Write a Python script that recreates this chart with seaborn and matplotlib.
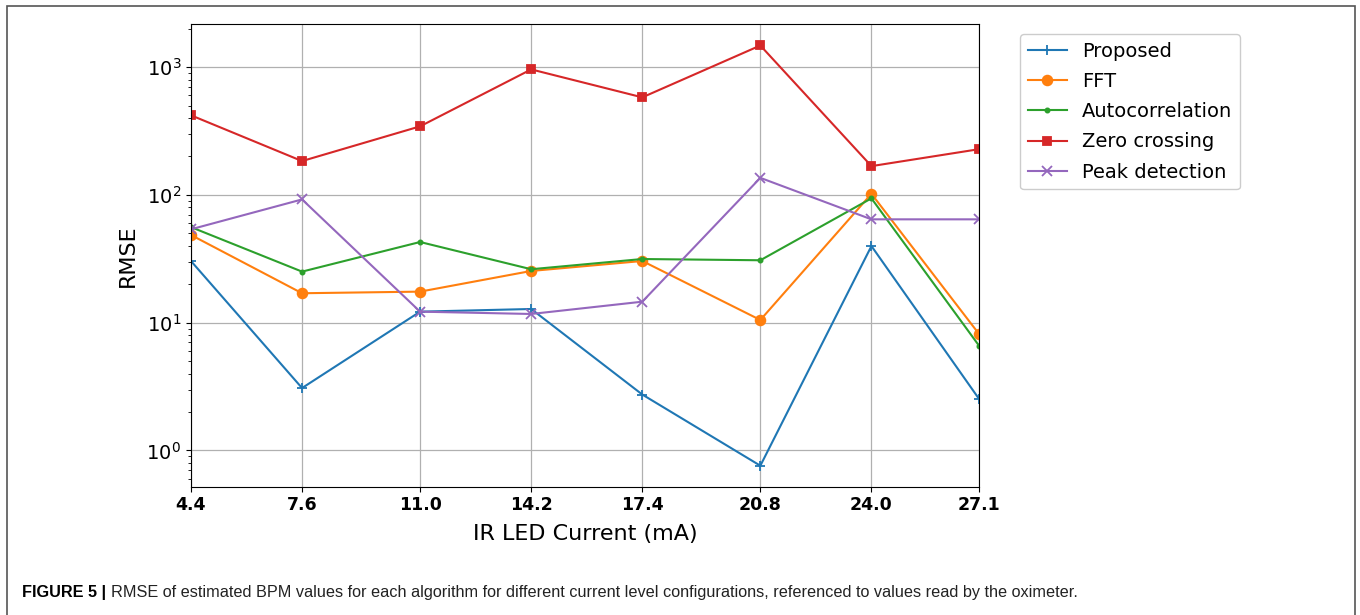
import numpy as np
import pandas as pd
import matplotlib
matplotlib.use("Agg")
import matplotlib.pyplot as plt
from matplotlib.patches import Rectangle
import seaborn as sns

# =========================
# Data
# =========================

currents = [4.4, 7.6, 11.0, 14.2, 17.4, 20.8, 24.0, 27.1]

proposed = [30.4, 3.08, 12.2, 12.8, 2.74, 0.76, 39.8, 2.53]
fft = [48.6, 17.0, 17.5, 25.4, 30.4, 10.5, 102, 8.15]
autocorr = [56, 25.1, 42.8, 26.2, 31.5, 30.8, 94, 6.6]
zero_cross = [420, 184, 344, 960, 580, 1477, 168, 228]
peak_det = [53.8, 92.2, 12.2, 11.7, 14.6, 136, 64.4, 64.4]

names = ["Proposed", "FFT", "Autocorrelation", "Zero crossing", "Peak detection"]
series = [proposed, fft, autocorr, zero_cross, peak_det]
markers = ["+", "o", ".", "s", "x"]
colors = ["#1f77b4", "#ff7f0e", "#2ca02c", "#d62728", "#9467bd"]
msizes = [7, 7, 6, 6, 7]

# =========================
# Plot
# =========================

fig = plt.figure(figsize=(13.6, 6.15), dpi=100)
ax = fig.add_axes([0.1404, 0.2086, 0.5795, 0.7516])

for name, vals, m, c, ms in zip(names, series, markers, colors, msizes):
    df = pd.DataFrame({"current": currents, "rmse": vals})
    sns.lineplot(data=df, x="current", y="rmse", ax=ax,
                 color=c, marker=m, markersize=ms,
                 markeredgecolor=c, markeredgewidth=1.3,
                 linewidth=1.5, label=name)

ax.set_yscale("log")
ax.set_xlim(currents[0], currents[-1])
ax.set_xticks(currents)
ax.set_xticklabels([f"{v:.1f}" for v in currents], fontsize=12.5, fontweight="bold")
ax.tick_params(axis="y", labelsize=14)
ax.grid(True, which="major", color="#b0b0b0", linewidth=0.9)

ax.set_xlabel("IR LED Current (mA)", fontsize=16, labelpad=7)
ax.set_ylabel("RMSE", fontsize=16, labelpad=6)

ax.legend(loc="upper left", bbox_to_anchor=(0.75, 0.945),
          bbox_transform=fig.transFigure, borderaxespad=0,
          fontsize=14, framealpha=1, labelspacing=0.58)

# =========================
# Caption and frame
# =========================

fig.patches.append(Rectangle((7 / 1360, -0.05), 1348 / 1360, 1.05 - 6 / 615,
                             transform=fig.transFigure, fill=False,
                             edgecolor="#555555", linewidth=1.2))

cap_font = ["Liberation Sans Narrow", "Liberation Sans", "DejaVu Sans"]
t = fig.text(22 / 1360, (615 - 592) / 615, "FIGURE 5 |", fontsize=11.7,
             fontweight="bold", family=cap_font, va="center", ha="left")
fig.canvas.draw()
bb = t.get_window_extent()
fig.text((bb.x1 + 5) / 1360, (615 - 592) / 615,
         "RMSE of estimated BPM values for each algorithm for different current "
         "level configurations, referenced to values read by the oximeter.",
         fontsize=11.7, family=cap_font, va="center", ha="left", color="#222222")

fig.savefig("out.png", dpi=100)
